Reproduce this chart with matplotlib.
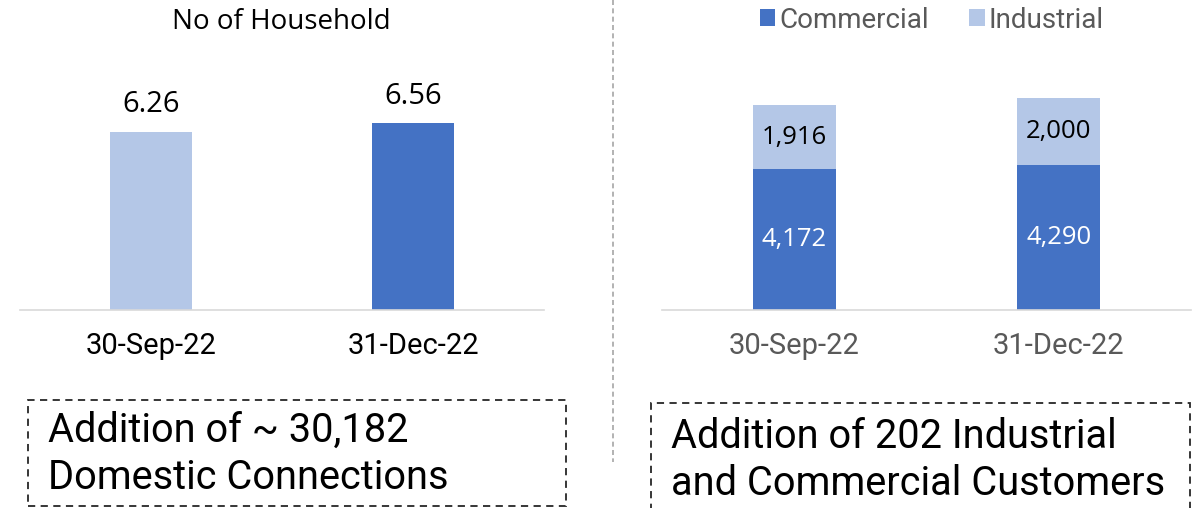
import matplotlib
matplotlib.use("Agg")
import matplotlib.pyplot as plt
from matplotlib.patches import Rectangle
from matplotlib.lines import Line2D

# ---- data ----
dates = ["30-Sep-22", "31-Dec-22"]
households = [6.26, 6.56]
household_labels = ["6.26", "6.56"]
commercial = [4172, 4290]
industrial = [1916, 2000]
series_names = ["Commercial", "Industrial"]
title_left = "No of Household"
note_left = "Addition of ~ 30,182\nDomestic Connections"
note_right = "Addition of 202 Industrial\nand Commercial Customers"

DARK = "#4472C4"
LIGHT = "#B4C7E7"
GRID = "#D9D9D9"
GREY = "#595959"
SEG = "Open Sans"
DIN = "Roboto"

W, H = 1196, 508
fig = plt.figure(figsize=(W / 100, H / 100), dpi=100)

def fx(px):
    return px / W

def fy(py):
    return 1 - py / H

def axes_px(x0, x1, ytop, ybot):
    return fig.add_axes([fx(x0), fy(ybot), fx(x1 - x0), (ybot - ytop) / H])

def style(ax, tick_color):
    for s in ["top", "right", "left"]:
        ax.spines[s].set_visible(False)
    ax.spines["bottom"].set_color(GRID)
    ax.spines["bottom"].set_linewidth(1.2)
    ax.set_yticks([])
    ax.set_xlim(-0.5, len(dates) - 0.5)
    ax.set_xticks(range(len(dates)))
    ax.set_xticklabels(dates, fontfamily=DIN, fontsize=21, color=tick_color)
    ax.tick_params(axis="x", length=0, pad=16)
    ax.set_facecolor("none")

# ---- left panel ----
axL = axes_px(20, 544, 40, 310)
xs = list(range(len(dates)))
axL.bar(xs, households, width=0.313, color=[LIGHT, DARK])
axL.set_ylim(0, 9.49)
style(axL, "#000000")
for x, v, lab in zip(xs, households, household_labels):
    axL.annotate(lab, (x, v), xytext=(0, 19.5), textcoords="offset points",
                 ha="center", va="center", fontsize=21, fontfamily=SEG, color="#000000")
fig.text(fx(281), fy(22), title_left, ha="center", va="center",
         fontsize=20, fontfamily=SEG, color="#000000")

# ---- right panel ----
axR = axes_px(662, 1191, 40, 310)
b1 = axR.bar(xs, commercial, width=0.314, color=DARK, label=series_names[0])
b2 = axR.bar(xs, industrial, width=0.314, bottom=commercial, color=LIGHT,
             label=series_names[1])
axR.set_ylim(0, 8010)
style(axR, GREY)
for x, c, i in zip(xs, commercial, industrial):
    axR.text(x, c / 2, f"{c:,}", ha="center", va="center", fontsize=18.5,
             fontfamily=SEG, color="white")
    axR.text(x, c + i / 2, f"{i:,}", ha="center", va="center", fontsize=18.5,
             fontfamily=SEG, color="#000000")

leg = fig.legend(handles=[b1, b2], labels=series_names, loc="center",
                 bbox_to_anchor=(fx(932), fy(20)), ncol=2, frameon=False,
                 handlelength=0.55, handleheight=0.55, handletextpad=0.15,
                 columnspacing=1.45, prop={"family": DIN, "size": 20})
for t in leg.get_texts():
    t.set_color(GREY)

# ---- separator ----
fig.add_artist(Line2D([fx(613), fx(613)], [fy(0), fy(462)], transform=fig.transFigure,
                      color="#A6A6A6", lw=1.2, ls=(0, (3, 2))))

# ---- note boxes ----
fig.add_artist(Rectangle((fx(28), fy(506)), fx(566 - 28), (506 - 400) / H,
                         transform=fig.transFigure, fill=False, ec="#262626",
                         lw=1.3, ls=(0, (4, 3))))
fig.add_artist(Rectangle((fx(651), fy(530)), fx(1190 - 651), (530 - 403) / H,
                         transform=fig.transFigure, fill=False, ec="#262626",
                         lw=1.3, ls=(0, (4, 3)), clip_on=False))
fig.text(fx(48), fy(454), note_left, ha="left", va="center", fontsize=28.6,
         fontfamily=DIN, color="#000000", linespacing=1.24)
fig.text(fx(671), fy(460), note_right, ha="left", va="center", fontsize=28.6,
         fontfamily=DIN, color="#000000", linespacing=1.24)

fig.savefig("out.png", dpi=100)
